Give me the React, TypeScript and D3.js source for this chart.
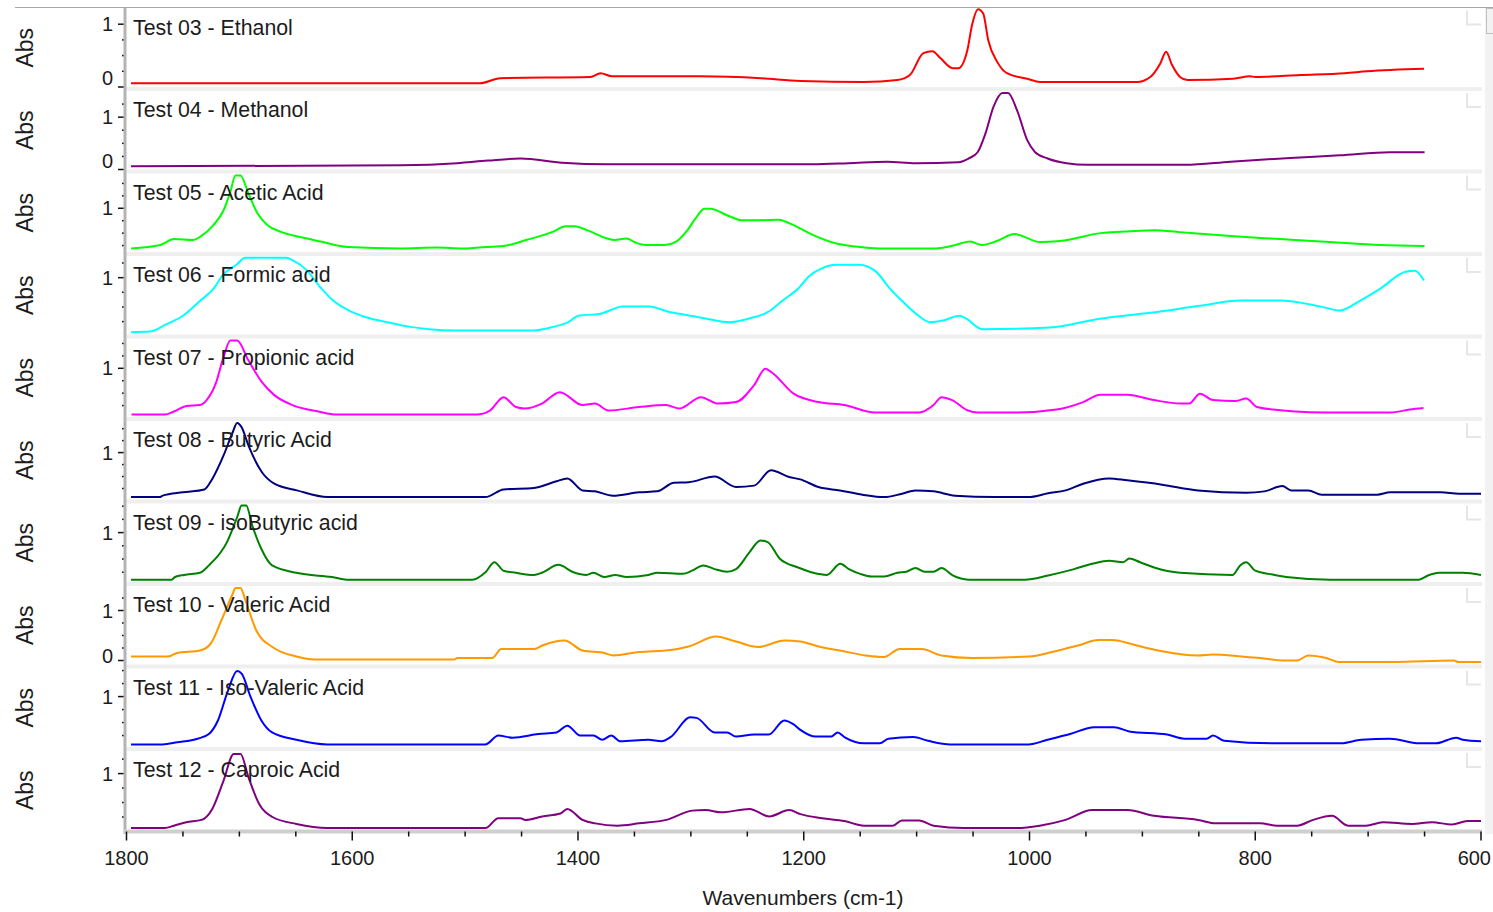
import React from "react";
import * as d3 from "d3";

type Pt = [number, number];

// panel titles / colours / y-ranges (Abs)
const titles = [
  "Test 03 - Ethanol",
  "Test 04 - Methanol",
  "Test 05 - Acetic Acid",
  "Test 06 - Formic acid",
  "Test 07 - Propionic acid",
  "Test 08 - Butyric Acid",
  "Test 09 - isoButyric acid",
  "Test 10 - Valeric Acid",
  "Test 11 - Iso-Valeric Acid",
  "Test 12 - Caproic Acid",
];
const colors = ["#ff0000", "#800080", "#00ff00", "#00ffff", "#ff00ff", "#000080", "#008000", "#ff9900", "#0000ff", "#800080"];
const yDomains: Pt[] = [
  [0, 1.25], [0, 1.5], [0.12, 1.7], [0.03, 1.37], [0.02, 1.6],
  [0.02, 1.66], [0.066, 1.55], [-0.08, 1.49], [0.03, 1.54], [0.034, 1.39],
];
const xTicks = [1800, 1600, 1400, 1200, 1000, 800, 600];

// spectra: [wavenumber, absorbance]
const ethanol: Pt[] = [
  [1796, 0.06], [1487, 0.06], [1469, 0.14], [1389, 0.16], [1380, 0.22], [1370, 0.17], [1292, 0.17],
  [1238, 0.14], [1203, 0.095], [1147, 0.08], [1117, 0.11], [1106, 0.19], [1094, 0.54], [1086, 0.57],
  [1079, 0.46], [1068, 0.3], [1063, 0.3], [1055, 0.59], [1051, 0.98], [1045.5, 1.24], [1041, 1.17],
  [1036.6, 0.75], [1028.6, 0.4], [1020, 0.22], [1002, 0.13], [990.6, 0.08], [904.7, 0.08], [893, 0.16],
  [884, 0.38], [879, 0.56], [873.7, 0.35], [866.6, 0.16], [860, 0.11], [819.6, 0.13], [804.6, 0.17],
  [800, 0.16], [760, 0.19], [720.5, 0.22], [701, 0.25], [650.5, 0.29],
];
const methanol: Pt[] = [
  [1796, 0.06], [1557, 0.08], [1507, 0.12], [1480, 0.17], [1451, 0.21], [1414, 0.13], [1374, 0.1],
  [1192.5, 0.1], [1160.6, 0.12], [1126, 0.15], [1101, 0.12], [1063, 0.14], [1054, 0.21], [1046, 0.33],
  [1039, 0.69], [1032, 1.19], [1024, 1.46], [1019, 1.46], [1011, 1.13], [1002, 0.56], [995, 0.33],
  [984, 0.21], [967, 0.12], [949, 0.09], [862, 0.09], [822, 0.15], [769, 0.22], [725, 0.27],
  [680.6, 0.33], [650, 0.33],
];
const acetic: Pt[] = [
  [1796, 0.19], [1770, 0.26], [1758, 0.38], [1741, 0.36], [1734.5, 0.43], [1723, 0.66], [1714, 0.96],
  [1708, 1.33], [1703.5, 1.66], [1699, 1.66], [1692, 1.3], [1684, 0.9], [1675, 0.66], [1663.6, 0.53],
  [1646, 0.42], [1628, 0.33], [1604, 0.22], [1557, 0.19], [1525.5, 0.21], [1501.6, 0.19], [1488, 0.21],
  [1466, 0.24], [1446, 0.36], [1422, 0.53], [1411, 0.64], [1403, 0.64], [1391, 0.55], [1374, 0.39],
  [1368, 0.36], [1357, 0.39], [1349, 0.31], [1340, 0.26], [1323.5, 0.26], [1313, 0.33], [1303, 0.56],
  [1296, 0.79], [1288, 0.99], [1283, 0.99], [1266, 0.84], [1255, 0.76], [1240, 0.76], [1222, 0.77],
  [1212, 0.69], [1191.6, 0.46], [1171, 0.29], [1154, 0.23], [1134, 0.19], [1083, 0.19], [1069, 0.24],
  [1052.5, 0.33], [1042, 0.26], [1030, 0.33], [1013, 0.48], [990.6, 0.32], [973, 0.34], [937, 0.5],
  [911, 0.54], [889, 0.56], [867, 0.52], [822, 0.44], [778, 0.38], [734, 0.32], [689.5, 0.26], [650, 0.24],
];
const formic: Pt[] = [
  [1796, 0.07], [1779, 0.08], [1764, 0.21], [1750, 0.35], [1734.5, 0.61], [1723, 0.81], [1714, 1.06],
  [1702, 1.23], [1695, 1.34], [1659, 1.34], [1652, 1.29], [1640, 1.12], [1628, 0.83], [1617, 0.61],
  [1604, 0.45], [1587, 0.32], [1569, 0.24], [1548.5, 0.16], [1531.7, 0.12], [1508.6, 0.1], [1438.7, 0.1],
  [1422, 0.16], [1408.6, 0.24], [1399.7, 0.35], [1381, 0.38], [1368, 0.47], [1361, 0.51], [1337, 0.51],
  [1320, 0.42], [1303, 0.36], [1286, 0.3], [1266, 0.24], [1249, 0.3], [1232, 0.41], [1218, 0.62],
  [1205, 0.81], [1195, 1.03], [1185, 1.15], [1171, 1.22], [1151, 1.22], [1137, 1.12], [1123.4, 0.81],
  [1110, 0.55], [1099.5, 0.37], [1088, 0.24], [1076.5, 0.27], [1062, 0.35], [1056, 0.3], [1042, 0.12],
  [981.7, 0.15], [937.4, 0.3], [893, 0.4], [849, 0.52], [813.5, 0.61], [778, 0.61], [742.6, 0.51],
  [725, 0.44], [707, 0.61], [689.5, 0.81], [667, 1.1], [658.5, 1.12], [650.5, 0.95],
];
const propionic: Pt[] = [
  [1795.6, 0.07], [1766, 0.07], [1758, 0.13], [1747, 0.24], [1735, 0.26], [1729, 0.36], [1721, 0.69],
  [1714, 1.23], [1708, 1.56], [1702, 1.56], [1692, 1.16], [1680, 0.72], [1669, 0.46], [1653, 0.26],
  [1630, 0.13], [1614, 0.07], [1490, 0.07], [1478, 0.15], [1466, 0.42], [1455, 0.22], [1447, 0.19],
  [1432, 0.29], [1416, 0.52], [1396, 0.26], [1385, 0.29], [1373, 0.15], [1346, 0.22], [1322, 0.26],
  [1310, 0.19], [1291, 0.42], [1276, 0.29], [1260, 0.32], [1244, 0.66], [1234, 0.99], [1229, 0.93],
  [1209, 0.49], [1187, 0.32], [1164, 0.26], [1137, 0.11], [1098, 0.11], [1085, 0.26], [1078, 0.42],
  [1068.5, 0.36], [1054.5, 0.15], [1046, 0.11], [1011, 0.11], [976, 0.17], [952.5, 0.32], [937.4, 0.47],
  [913.5, 0.47], [889.6, 0.36], [866.6, 0.29], [858.6, 0.29], [849, 0.49], [837.4, 0.36], [818, 0.34],
  [808, 0.39], [798.4, 0.22], [784, 0.17], [764.7, 0.13], [739, 0.11], [680.6, 0.11], [663, 0.17], [651, 0.2],
];
const butyric: Pt[] = [
  [1796, 0.07], [1770, 0.07], [1768, 0.1], [1750, 0.17], [1731, 0.23], [1724, 0.45], [1714, 0.94],
  [1706, 1.42], [1702, 1.62], [1698, 1.53], [1692, 1.15], [1680, 0.59], [1669, 0.35], [1649, 0.21],
  [1622, 0.07], [1482, 0.07], [1466, 0.23], [1439, 0.26], [1419, 0.4], [1409.5, 0.46], [1396, 0.21],
  [1385, 0.19], [1369, 0.1], [1346, 0.17], [1330, 0.19], [1315, 0.37], [1302, 0.38], [1279, 0.5],
  [1260, 0.28], [1244, 0.31], [1229, 0.63], [1213, 0.49], [1203, 0.44], [1187, 0.28], [1168, 0.21],
  [1148, 0.12], [1129, 0.07], [1113, 0.14], [1101, 0.21], [1085, 0.19], [1066, 0.1], [1031, 0.07],
  [1001, 0.07], [983.5, 0.15], [968, 0.21], [952.5, 0.35], [929.4, 0.46], [913.5, 0.42], [882.5, 0.33],
  [850.6, 0.21], [808, 0.16], [792, 0.19], [776, 0.3], [768, 0.21], [753, 0.21], [741, 0.12], [692, 0.12],
  [680.6, 0.17], [635.5, 0.17], [619.5, 0.14], [600, 0.14],
];
const isobutyric: Pt[] = [
  [1796, 0.11], [1760, 0.11], [1757, 0.16], [1749, 0.2], [1735, 0.24], [1727, 0.38], [1711, 0.82],
  [1702, 1.29], [1698, 1.51], [1694, 1.51], [1688.5, 1.13], [1680.5, 0.69], [1671, 0.38], [1649.5, 0.24],
  [1618, 0.16], [1602.5, 0.11], [1493.6, 0.11], [1482, 0.25], [1474, 0.44], [1466, 0.28], [1455, 0.24],
  [1439, 0.2], [1432, 0.24], [1417.4, 0.39], [1404, 0.25], [1392.6, 0.2], [1386.4, 0.24], [1376.7, 0.16],
  [1367, 0.2], [1357, 0.16], [1337.7, 0.2], [1329.7, 0.24], [1307, 0.22], [1299, 0.28], [1289, 0.38],
  [1279, 0.31], [1268, 0.26], [1260, 0.31], [1248, 0.63], [1238.5, 0.85], [1232, 0.82], [1221, 0.5],
  [1205, 0.34], [1191.6, 0.24], [1179.6, 0.2], [1167.6, 0.41], [1160, 0.31], [1150, 0.22], [1140, 0.17],
  [1128.7, 0.17], [1117, 0.24], [1109, 0.26], [1101, 0.33], [1093, 0.26], [1085, 0.26], [1078, 0.33],
  [1068, 0.19], [1054.3, 0.11], [1004, 0.11], [983.5, 0.19], [960.5, 0.31], [944.5, 0.41], [929.5, 0.47],
  [917, 0.44], [911.7, 0.51], [902, 0.44], [889.6, 0.34], [866.6, 0.24], [820, 0.2], [813.4, 0.38],
  [808, 0.44], [800, 0.28], [787.8, 0.22], [772.7, 0.16], [733.7, 0.11], [655, 0.11], [647, 0.19],
  [637, 0.24], [616, 0.24], [600, 0.2],
];
const valeric: Pt[] = [
  [1796, 0.08], [1763, 0.08], [1755, 0.15], [1735, 0.2], [1725.6, 0.33], [1716, 0.8], [1706, 1.33],
  [1703.5, 1.45], [1699, 1.45], [1694.6, 1.2], [1685, 0.6], [1670.7, 0.27], [1649.5, 0.08], [1633.5, 0.02],
  [1509.5, 0.02], [1507, 0.05], [1476, 0.05], [1468, 0.23], [1438.7, 0.23], [1431.6, 0.3], [1412, 0.4],
  [1396, 0.2], [1376.7, 0.15], [1368.7, 0.1], [1345.7, 0.17], [1318, 0.21], [1302, 0.28], [1277.5, 0.48],
  [1260, 0.38], [1240.3, 0.27], [1217, 0.4], [1203, 0.38], [1187, 0.28], [1168, 0.2], [1145, 0.1],
  [1129, 0.07], [1115, 0.23], [1095.5, 0.23], [1078, 0.1], [1051, 0.05], [1000.4, 0.08], [980, 0.17],
  [957, 0.3], [939, 0.41], [927, 0.41], [905, 0.3], [886, 0.2], [850.6, 0.1], [837.4, 0.12], [811.7, 0.08],
  [795.7, 0.05], [776, 0], [763, 0], [753, 0.1], [737, 0.05], [725.8, -0.03], [679, -0.03], [624, 0],
  [620, -0.03], [600, -0.03],
];
const isovaleric: Pt[] = [
  [1796, 0.08], [1768, 0.08], [1755, 0.12], [1737, 0.19], [1727, 0.28], [1719, 0.54], [1710, 1.12],
  [1702, 1.49], [1698, 1.44], [1690, 0.99], [1680.5, 0.54], [1671, 0.31], [1649.5, 0.17], [1622, 0.08],
  [1482, 0.08], [1470.6, 0.25], [1458, 0.21], [1435, 0.28], [1419, 0.31], [1409.5, 0.44], [1398, 0.25],
  [1386.4, 0.25], [1378.5, 0.17], [1370.5, 0.25], [1362.5, 0.14], [1337.7, 0.17], [1326, 0.14],
  [1318, 0.22], [1300.5, 0.6], [1295, 0.59], [1279, 0.31], [1268, 0.31], [1260, 0.23], [1244, 0.27],
  [1231, 0.27], [1217.3, 0.54], [1209.3, 0.47], [1203, 0.36], [1189.4, 0.23], [1175.6, 0.23], [1170, 0.31],
  [1164, 0.22], [1146.6, 0.1], [1132.6, 0.1], [1125, 0.19], [1103, 0.22], [1090, 0.15], [1070.3, 0.08],
  [1001, 0.08], [984, 0.17], [964, 0.28], [942.7, 0.41], [925, 0.41], [911.7, 0.33], [878, 0.27],
  [862.6, 0.19], [843, 0.19], [837.4, 0.25], [827.6, 0.15], [784, 0.1], [724, 0.1], [706, 0.17],
  [680.6, 0.19], [655, 0.1], [640, 0.1], [622, 0.21], [616, 0.17], [600, 0.14],
];
const caproic: Pt[] = [
  [1796, 0.06], [1766, 0.06], [1758, 0.1], [1747, 0.16], [1733.6, 0.2], [1724, 0.39], [1714, 0.88],
  [1705, 1.34], [1699, 1.34], [1692, 0.94], [1682.6, 0.48], [1670.7, 0.25], [1649.5, 0.13], [1622, 0.06],
  [1482, 0.06], [1470.6, 0.23], [1451, 0.23], [1446.6, 0.2], [1431.6, 0.26], [1415.6, 0.31], [1409.5, 0.39],
  [1396, 0.2], [1384.7, 0.14], [1365, 0.1], [1345.7, 0.14], [1321.8, 0.2], [1298.8, 0.36], [1287, 0.37],
  [1273, 0.33], [1248, 0.39], [1230.6, 0.26], [1212.9, 0.37], [1203, 0.3], [1183.6, 0.23], [1164, 0.18],
  [1146.6, 0.1], [1121, 0.1], [1113, 0.19], [1097.7, 0.19], [1085, 0.1], [1058, 0.06], [1011, 0.06],
  [991, 0.1], [968, 0.2], [944.5, 0.37], [913.5, 0.37], [889.6, 0.27], [850.6, 0.2], [835, 0.14],
  [795.7, 0.14], [780.7, 0.1], [763, 0.1], [748.8, 0.2], [732, 0.27], [717.8, 0.1], [702, 0.1],
  [687, 0.16], [661, 0.13], [643.4, 0.16], [625.7, 0.12], [612, 0.18], [600, 0.18],
];
const spectra = [ethanol, methanol, acetic, formic, propionic, butyric, isobutyric, valeric, isovaleric, caproic];

const W = 1493;
const H = 912;
const left = 126.5;
const right = 1481;
const font = "'Liberation Sans', Arial, sans-serif";

const App = () => {
  const x = d3.scaleLinear().domain([1800, 600]).range([left, right]);
  const pitch = 82.5;

  const panels = spectra.map((data, k) => {
    const top = 8.5 + pitch * k;
    const bottom = 87 + pitch * k;
    const [lo, hi] = yDomains[k];
    const y = d3.scaleLinear().domain([lo, hi]).range([bottom, top]);
    const line = d3
      .line<Pt>()
      .x((d) => x(d[0]))
      .y((d) => y(d[1]))
      .curve(d3.curveMonotoneX);
    // ticks every 0.25 Abs, labelled at integers
    const ticks = d3
      .range(Math.ceil(lo * 4), Math.floor(hi * 4) + 1)
      .map((i) => i / 4)
      .filter((t) => y(t) >= top + 2);
    return { k, top, bottom, y, path: line(data) || "", ticks };
  });

  const axisY = 829.5;
  const minorX = d3.range(600, 1801, 50);

  return (
    <svg width={W} height={H} style={{ position: "absolute", left: 0, top: 0, background: "#fff" }} fontFamily={font}>
      <line x1={15} x2={W} y1={7.5} y2={7.5} stroke="#a8a8a8" />
      <rect x={1485} y={8} width={8} height={826} fill="#f2f2f2" />
      <rect x={1486.5} y={8.5} width={7} height={25} fill="none" stroke="#c0c0c0" />

      {panels.map((p) => (
        <g key={p.k}>
          {p.k < 9 && <rect x={left} y={p.bottom} width={right - left + 1} height={4} fill="#efefef" />}
          <path d={`M1467,${p.top + 2}V${p.top + 16}H1481`} fill="none" stroke="#e6e6e6" strokeWidth={2} />
          <path d={p.path} fill="none" stroke={colors[p.k]} strokeWidth={2} strokeLinejoin="round" />
          <text x={133} y={p.top + 26} fontSize={21.3} fill="#1c1c1c">
            {titles[p.k]}
          </text>
          <text
            transform={`translate(33,${(p.top + p.bottom) / 2}) rotate(-90)`}
            textAnchor="middle"
            fontSize={23}
            fill="#1c1c1c"
          >
            Abs
          </text>
          {p.ticks.map((t) => {
            const ty = p.y(t);
            const major = Number.isInteger(t);
            return (
              <g key={t}>
                <line x1={major ? 118 : 122} x2={126} y1={ty} y2={ty} stroke="#111" strokeWidth={1.5} />
                {major && (
                  <text x={113} y={Math.min(ty, p.bottom - 9) + 7} textAnchor="end" fontSize={20} fill="#1c1c1c">
                    {t}
                  </text>
                )}
              </g>
            );
          })}
        </g>
      ))}

      <line x1={125} x2={125} y1={8} y2={834} stroke="#b4b4b4" strokeWidth={3} />
      <rect x={124} y={axisY} width={right - 124 + 1} height={4} fill="#cfcfcf" />
      {minorX.map((t) => {
        const major = xTicks.includes(t);
        return (
          <line key={t} x1={x(t)} x2={x(t)} y1={axisY + 2} y2={major ? axisY + 11 : axisY + 7} stroke="#111" strokeWidth={1.5} />
        );
      })}
      {xTicks.map((t) => {
        const last = t === 600;
        return (
          <text key={t} x={last ? 1491 : x(t)} y={865} textAnchor={last ? "end" : "middle"} fontSize={20} fill="#1c1c1c">
            {t}
          </text>
        );
      })}
      <text x={803} y={905} textAnchor="middle" fontSize={21} fill="#1c1c1c">
        Wavenumbers (cm-1)
      </text>
    </svg>
  );
};

export default App;
